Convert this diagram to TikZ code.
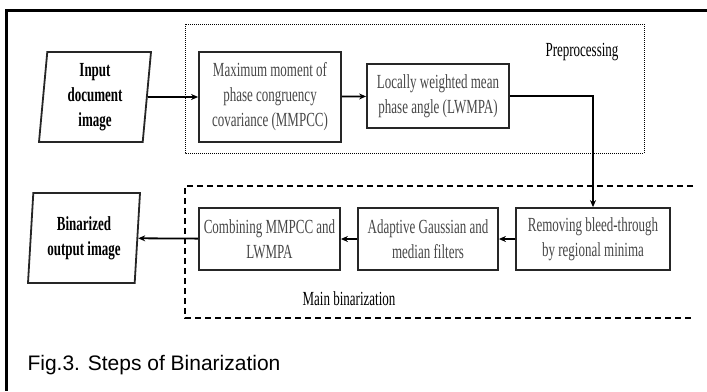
\documentclass[tikz,border=0pt]{standalone}
\usepackage{fontspec}
\usepackage{tikz}
\usetikzlibrary{arrows.meta, shapes.geometric}
\setmainfont{Liberation Serif}
\newfontfamily\boxfont[FakeStretch=0.65]{Liberation Serif}
\newfontfamily\capfont{Liberation Sans}
\colorlet{boxtext}{black!72}
\colorlet{boxline}{black!85}

\begin{document}
\begin{tikzpicture}[x=1pt, y=-1pt, >=Stealth,
    stepbox/.style={draw=boxline, line width=1.8pt, align=center, inner sep=2pt,
      text=boxtext, font=\boxfont\fontsize{20}{25}\selectfont},
    iobox/.style={trapezium, trapezium left angle=83, trapezium right angle=97,
      trapezium stretches body=true, draw=boxline, line width=1.8pt, align=center,
      inner sep=0pt, minimum width=112pt, minimum height=90pt,
      font=\boxfont\bfseries\fontsize{20}{25}\selectfont},
    flow/.style={->, line width=1.8pt, >={Stealth[length=7pt, width=6pt]}}]
    \useasboundingbox (0,0) rectangle (707,391);

    % frame
    \draw[line width=3pt] (707,10) -- (6,10) -- (6,391);

    % group boxes
    \draw[line width=0.9pt, dash pattern=on 1pt off 1pt] (185,24) rectangle (644,153);
    \draw[line width=1.3pt, dash pattern=on 6pt off 4pt] (693,186) -- (185,186) -- (185,318) -- (693,318);
    \node[font=\boxfont\fontsize{20}{25}\selectfont] (prelabel) at (582,52) {Preprocessing};
    \node[font=\boxfont\fontsize{20}{25}\selectfont] (mainlabel) at (349,299) {Main binarization};

    % steps
    \node[iobox] (input) at (95,97) {Input\\document\\image};
    \node[stepbox, minimum width=142pt, minimum height=90pt] (mmpcc) at (270,97)
      {Maximum moment of\\phase congruency\\covariance (MMPCC)};
    \node[stepbox, minimum width=142pt, minimum height=64pt] (lwmpa) at (438,96)
      {Locally weighted mean\\phase angle (LWMPA)};
    \node[stepbox, minimum width=154pt, minimum height=62pt] (bleed) at (593,239)
      {Removing bleed-through\\by regional minima};
    \node[stepbox, minimum width=140pt, minimum height=62pt] (filters) at (428,239)
      {Adaptive Gaussian and\\median filters};
    \node[stepbox, minimum width=141pt, minimum height=62pt] (combine) at (269.5,239)
      {Combining MMPCC and\\LWMPA};
    \node[iobox] (output) at (84,238) {Binarized\\output image};

    % connectors
    \draw[flow] (input) -- (mmpcc);
    \draw[flow] (mmpcc) -- (lwmpa);
    \draw[flow] (lwmpa.east) -| (bleed.north);
    \draw[flow] (bleed) -- (filters);
    \draw[flow] (filters) -- (combine);
    \draw[flow] (combine) -- (output);

    % caption
    \node[anchor=west, font=\capfont\fontsize{21}{25}\selectfont] (caption) at (24,365)
      {Fig.3. Steps of Binarization};
\end{tikzpicture}
\end{document}
